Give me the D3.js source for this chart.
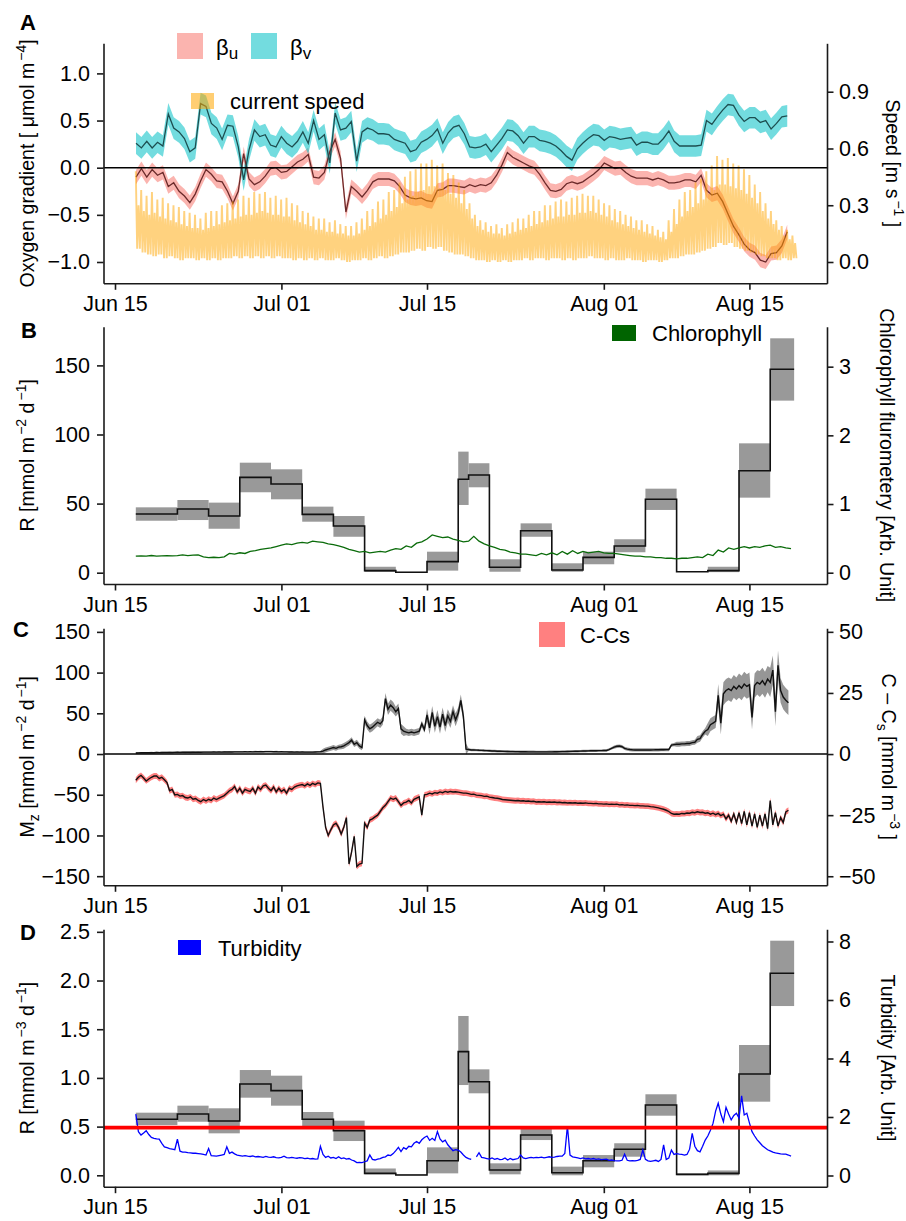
<!DOCTYPE html>
<html>
<head>
<meta charset="utf-8">
<script src="https://cdn.jsdelivr.net/npm/d3@7"></script>
<style>
  html, body { margin: 0; padding: 0; background: #fff; }
  svg { display: block; }
</style>
</head>
<body>
<svg id="chart" width="906" height="1221"></svg>
<script>
// ---------------------------------------------------------------------------
// Time base: all series are indexed in days counted from 15 June (UTC).
// ---------------------------------------------------------------------------
const DAY_MS = 864e5;
const T0 = Date.UTC(2016, 5, 15);
const asDate = d => new Date(T0 + d * DAY_MS);

const xTickLabels = ["2016-06-15", "2016-07-01", "2016-07-15", "2016-08-01", "2016-08-15"];

// ---------------------------------------------------------------------------
// Panel A: oxygen gradient components (one value per 12.42 h tidal cycle)
// ---------------------------------------------------------------------------
const betaStartDay = 2.02;
const tideDays = 0.5175;            // 12.42 h
const betaUHalfWidth = 0.075;
const betaVHalfWidth = 0.115;

const betaV = [
  0.26,0.21,0.28,0.21,0.27,0.23,0.57,0.42,0.38,0.31,
  0.17,0.21,0.68,0.65,0.47,0.42,0.30,0.45,0.44,0.22,
  -0.13,0.19,0.40,0.33,0.35,0.24,0.22,0.33,0.26,0.22,
  0.28,0.38,0.26,0.50,0.30,0.35,0.05,0.58,0.40,0.42,
  0.49,0.07,0.38,0.42,0.40,0.36,0.36,0.35,0.30,0.28,
  0.26,0.17,0.19,0.27,0.30,0.34,0.41,0.26,0.37,0.43,
  0.45,0.36,0.22,0.21,0.22,0.25,0.17,0.24,0.31,0.40,
  0.39,0.34,0.26,0.33,0.33,0.29,0.28,0.26,0.23,0.18,
  0.12,0.08,0.20,0.26,0.31,0.35,0.34,0.29,0.33,0.32,
  0.30,0.31,0.32,0.24,0.27,0.27,0.25,0.25,0.31,0.39,
  0.28,0.23,0.23,0.23,0.23,0.24,0.50,0.46,0.54,0.61,
  0.67,0.66,0.56,0.49,0.53,0.53,0.48,0.50,0.41,0.47,
  0.54,0.55
];

const betaU = [
  -0.10,-0.01,-0.10,-0.02,-0.08,-0.05,-0.20,-0.16,-0.25,-0.30,
  -0.37,-0.28,-0.14,-0.02,-0.07,-0.14,-0.15,-0.25,-0.38,-0.25,
  0.15,-0.12,-0.18,-0.15,-0.09,-0.01,0.00,-0.05,-0.04,0.01,
  0.06,0.09,0.14,-0.10,-0.11,-0.05,0.17,0.30,0.10,-0.47,
  -0.20,-0.25,-0.31,-0.24,-0.15,-0.12,-0.12,-0.12,-0.14,-0.20,
  -0.29,-0.32,-0.33,-0.32,-0.35,-0.36,-0.24,-0.23,-0.19,-0.19,
  -0.20,-0.21,-0.18,-0.20,-0.18,-0.19,-0.16,-0.08,0.03,0.16,
  0.11,0.08,0.05,0.02,0.00,-0.07,-0.16,-0.24,-0.25,-0.23,
  -0.17,-0.15,-0.17,-0.15,-0.11,-0.07,-0.02,0.05,0.02,-0.01,
  0.00,-0.05,-0.09,-0.11,-0.11,-0.11,-0.13,-0.11,-0.13,-0.16,
  -0.16,-0.15,-0.13,-0.13,-0.15,-0.08,-0.24,-0.29,-0.27,-0.36,
  -0.49,-0.62,-0.71,-0.81,-0.87,-0.90,-0.98,-1.00,-0.91,-0.90,
  -0.83,-0.68
];

// Current speed [m/s] per tidal cycle: main peak, secondary peak, slack minimum
const speedStartDay = 2.0;
const speedHigh = [
  0.48,0.38,0.35,0.37,0.33,0.34,0.31,0.30,0.29,0.27,
  0.26,0.25,0.23,0.26,0.27,0.27,0.30,0.31,0.32,0.33,
  0.35,0.34,0.37,0.36,0.37,0.34,0.35,0.33,0.34,0.31,
  0.30,0.27,0.26,0.24,0.23,0.23,0.21,0.22,0.20,0.19,
  0.19,0.21,0.23,0.27,0.28,0.32,0.33,0.37,0.38,0.42,
  0.45,0.48,0.49,0.52,0.52,0.54,0.51,0.52,0.47,0.46,
  0.42,0.38,0.31,0.25,0.22,0.21,0.19,0.20,0.18,0.20,
  0.21,0.23,0.23,0.25,0.27,0.27,0.30,0.30,0.32,0.33,
  0.32,0.34,0.35,0.36,0.35,0.35,0.33,0.31,0.30,0.28,
  0.27,0.25,0.24,0.22,0.22,0.20,0.19,0.17,0.16,0.22,
  0.28,0.33,0.37,0.38,0.42,0.44,0.48,0.51,0.56,0.54,
  0.55,0.52,0.51,0.49,0.46,0.41,0.37,0.31,0.27,0.22,
  0.19,0.17,0.14
];
const speedSecond = [
  0.30,0.27,0.25,0.26,0.24,0.23,0.22,0.21,0.20,0.19,
  0.18,0.18,0.17,0.18,0.19,0.20,0.21,0.22,0.23,0.24,
  0.25,0.25,0.26,0.27,0.26,0.25,0.25,0.24,0.24,0.22,
  0.21,0.20,0.19,0.17,0.17,0.16,0.16,0.15,0.15,0.14,
  0.14,0.15,0.17,0.19,0.21,0.23,0.25,0.27,0.29,0.31,
  0.33,0.35,0.37,0.38,0.40,0.40,0.39,0.38,0.36,0.34,
  0.31,0.28,0.23,0.19,0.17,0.16,0.15,0.15,0.14,0.15,
  0.16,0.17,0.18,0.19,0.20,0.21,0.22,0.23,0.24,0.24,
  0.25,0.25,0.26,0.26,0.27,0.26,0.25,0.24,0.22,0.21,
  0.20,0.19,0.18,0.17,0.16,0.15,0.14,0.13,0.12,0.16,
  0.20,0.24,0.27,0.29,0.31,0.33,0.36,0.38,0.41,0.41,
  0.40,0.39,0.38,0.36,0.34,0.31,0.27,0.23,0.20,0.17,
  0.14,0.12,0.10
];
const speedLow = [
  0.07,0.05,0.04,0.03,0.04,0.02,0.03,0.02,0.01,0.02,
  0.02,0.01,0.02,0.01,0.02,0.01,0.02,0.02,0.03,0.02,
  0.03,0.02,0.03,0.02,0.03,0.02,0.03,0.02,0.02,0.01,
  0.02,0.01,0.02,0.01,0.02,0.01,0.01,0.02,0.01,0.00,
  0.01,0.01,0.02,0.01,0.02,0.03,0.02,0.03,0.04,0.05,
  0.05,0.06,0.07,0.06,0.08,0.07,0.08,0.06,0.05,0.04,
  0.04,0.03,0.02,0.01,0.01,0.00,0.01,0.00,0.01,0.00,
  0.01,0.01,0.02,0.01,0.02,0.02,0.01,0.02,0.02,0.01,
  0.02,0.01,0.02,0.02,0.03,0.02,0.02,0.01,0.02,0.01,
  0.01,0.02,0.01,0.01,0.00,0.01,0.01,0.00,0.01,0.02,
  0.02,0.03,0.04,0.04,0.05,0.06,0.07,0.08,0.10,0.09,
  0.10,0.08,0.07,0.06,0.05,0.04,0.03,0.02,0.02,0.01,
  0.02,0.01,0.02
];

// ---------------------------------------------------------------------------
// Panels B & D: respiration estimates per window (window edges in days)
// ---------------------------------------------------------------------------
const windowEdges = [2, 6, 9, 12, 15, 18, 21, 24, 27, 30, 33, 34, 36, 39, 42, 45, 48, 51, 54, 57, 60, 63, 65.3];

const rAreal   = [42.5, 46.1, 41.0, 69.0, 64.2, 42.2, 33.8, 1.5, 0.3, 8.0, 67.6, 70.7, 3.9, 30.4, 2.0, 11.1, 19.3, 53.1, 0.7, 1.5, 73.8, 147.2];
const rArealLo = [37.6, 38.1, 31.8, 58.2, 53.1, 36.9, 26.0, 0.5, 0.0, 1.5, 49.0, 61.8, 0.7, 26.0, 0.7, 6.1, 14.8, 45.4, 0.5, 0.4, 54.3, 124.5];
const rArealHi = [47.3, 52.6, 50.7, 79.6, 74.8, 47.8, 41.0, 4.3, 0.6, 15.2, 87.6, 79.2, 9.7, 35.7, 6.8, 15.2, 24.2, 60.8, 0.9, 4.3, 93.6, 169.6];

const rVolume   = [0.575, 0.629, 0.557, 0.937, 0.869, 0.575, 0.458, 0.020, 0.003, 0.150, 1.270, 0.961, 0.054, 0.414, 0.027, 0.150, 0.267, 0.722, 0.010, 0.020, 1.040, 2.074];
const rVolumeLo = [0.516, 0.550, 0.431, 0.797, 0.715, 0.493, 0.352, 0.010, 0.000, 0.020, 0.927, 0.842, 0.010, 0.362, 0.000, 0.082, 0.191, 0.612, 0.000, 0.000, 0.756, 1.738];
const rVolumeHi = [0.643, 0.715, 0.688, 1.081, 1.023, 0.650, 0.561, 0.070, 0.010, 0.287, 1.636, 1.088, 0.123, 0.482, 0.089, 0.208, 0.329, 0.832, 0.020, 0.050, 1.338, 2.409];
const rVolumeThreshold = 0.49;

// Chlorophyll fluorometry, every 12 h from day 2
const chlStartDay = 2.0;
const chlStepDays = 0.5;
const chlorophyll = [
  0.24,0.245,0.24,0.25,0.24,0.245,0.25,0.245,0.25,0.26,
  0.25,0.255,0.26,0.23,0.22,0.225,0.22,0.23,0.28,0.27,
  0.29,0.28,0.31,0.32,0.34,0.35,0.36,0.38,0.40,0.42,
  0.41,0.43,0.44,0.43,0.46,0.45,0.44,0.42,0.41,0.39,
  0.37,0.34,0.32,0.30,0.31,0.29,0.30,0.31,0.30,0.33,
  0.35,0.34,0.39,0.37,0.43,0.45,0.49,0.55,0.53,0.51,
  0.52,0.49,0.47,0.45,0.46,0.53,0.46,0.42,0.39,0.37,
  0.34,0.33,0.30,0.29,0.27,0.27,0.26,0.25,0.28,0.26,
  0.29,0.26,0.31,0.27,0.32,0.28,0.31,0.29,0.30,0.31,
  0.29,0.28,0.28,0.27,0.26,0.25,0.24,0.24,0.23,0.23,
  0.22,0.22,0.21,0.21,0.20,0.21,0.21,0.22,0.23,0.22,
  0.27,0.25,0.33,0.30,0.36,0.34,0.36,0.38,0.36,0.38,
  0.37,0.39,0.40,0.37,0.38,0.36,0.35
];

// Turbidity, every 6 h from day 2 (one group of four per day)
const turbStartDay = 2.0;
const turbStepDays = 0.25;
const turbidity = [
  2.10,1.50,1.38,1.45,  1.53,1.40,1.30,1.27,  1.25,1.24,1.10,0.98,  0.95,0.92,0.90,0.88,
  1.24,0.83,0.80,0.80,  0.78,0.77,0.76,0.76,  0.75,0.74,0.72,0.70,  0.92,0.68,0.67,0.66,
  0.68,0.70,0.72,0.98,  0.76,0.80,0.74,0.70,  0.68,0.66,0.68,0.66,  0.65,0.67,0.64,0.65,
  0.64,0.62,0.65,0.63,  0.62,0.64,0.61,0.60,  0.62,0.66,0.61,0.60,  0.62,0.60,0.59,0.61,
  0.60,0.58,0.59,0.57,  0.58,0.56,0.57,1.00,  0.72,0.62,0.66,0.60,  0.62,0.58,0.64,0.58,
  0.60,0.56,0.58,0.53,  0.50,0.44,0.45,0.44,  0.47,0.50,0.70,0.55,  0.53,0.56,0.58,0.62,
  0.64,0.70,0.68,0.75,  0.85,0.96,0.82,0.95,  0.90,1.00,0.98,1.10,  1.16,1.10,1.22,1.30,
  1.35,1.20,1.27,1.20,  1.50,1.25,1.15,1.21,  1.05,0.95,0.85,0.88,  0.87,0.80,0.70,0.62,
  0.58,0.55,null,0.64,  0.78,0.62,0.60,0.58,  0.56,0.60,0.55,0.58,  0.54,0.55,0.60,0.53,
  0.58,0.54,0.56,0.58,  0.70,0.60,0.58,0.60,  0.62,0.60,0.62,0.61,  0.63,0.60,0.62,0.64,
  0.62,0.63,0.65,0.66,  0.66,0.75,1.69,0.70,  0.64,0.62,0.60,0.58,  0.60,0.57,0.58,0.56,
  0.58,0.55,0.57,0.54,  0.55,0.56,0.52,0.53,  0.51,0.50,0.50,0.52,  0.73,0.52,0.50,0.51,
  0.50,0.52,0.55,0.87,  0.55,0.50,0.48,0.50,  0.52,0.48,0.55,1.05,  0.55,0.60,0.87,0.72,
  0.75,0.73,0.72,0.70,  0.72,0.90,1.44,1.00,  0.85,0.81,1.00,1.21,  1.35,1.55,1.78,2.20,
  2.47,2.10,1.84,2.33,  2.10,1.90,2.05,2.13,  1.96,2.72,2.07,2.13,  1.80,1.50,1.35,1.22,
  1.12,1.02,0.95,0.88,  0.84,0.80,0.77,0.76,  0.74,0.73,0.73,0.70,
  0.66
];

// ---------------------------------------------------------------------------
// Panel C: vertical flux M_z and saturation deficit C - Cs, every 6 h from day 2
// ---------------------------------------------------------------------------
const fluxStartDay = 2.0;
const fluxStepDays = 0.25;
const mz = [
  1.2,1.4,1.5,1.5,  1.6,1.5,1.7,1.6,  1.8,1.7,1.8,1.9,  1.9,2.0,1.9,2.0,
  2.1,2.0,2.2,2.1,  2.2,2.1,2.3,2.2,  2.3,2.2,2.4,2.3,  2.4,2.3,2.5,2.4,
  2.5,2.4,2.6,2.5,  2.6,2.5,2.7,2.6,  2.7,2.6,2.8,2.7,  2.8,2.7,2.9,2.8,
  2.9,2.8,3.0,2.9,  3.0,2.8,2.9,2.7,  2.8,2.6,2.7,2.5,  2.6,2.4,2.5,2.4,
  2.5,2.3,2.4,2.3,  2.4,2.5,2.6,2.8,  3.5,5.0,6.0,7.0,  8.0,7.0,8.5,9.0,
  10,12,14,17,      12,14,10,8,       42,35,31,33,      36,39,37,41,
  68,55,60,57,      52,56,31,28,      27,26,27,26,      27,28,37,30,
  48,32,51,34,      46,33,49,35,      47,40,52,42,      50,66,46,6.0,
  5.5,5.0,5.0,4.8,  4.6,4.5,4.3,4.2,  4.0,3.8,3.7,3.5,  3.4,3.3,3.2,3.1,
  3.0,3.0,2.9,2.9,  2.8,2.8,2.8,2.7,  2.7,2.7,2.6,2.6,  2.6,2.6,2.6,2.7,
  2.7,2.8,2.8,2.9,  3.0,3.0,3.1,3.2,  3.3,3.4,3.5,3.6,  3.7,3.8,3.9,4.0,
  4.0,4.1,4.2,4.2,  4.3,4.4,5.5,7.0,  8.5,9.5,9.8,9.0,  7.0,6.0,5.5,5.2,
  5.0,5.0,5.1,5.0,  5.0,5.1,5.0,5.1,  5.2,5.2,5.3,5.3,  5.4,5.5,11.0,11.5,
  12.0,12.0,12.5,12.5, 13.0,13.0,14.0,14.5, 18,19,24,28, 30,36,38,40,
  72,38,74,78,      80,78,83,80,      84,81,86,83,      85,45,84,88,
  86,90,85,92,      88,103,52,109,    78,70,66,63
];
// daily half-width of the M_z uncertainty band (days 2 ... 64)
const mzHalfWidth = [
  1,1,1,1,1,1,1,1,1,1,1,1,1,1,1,1,1,1,
  3,3,3.5,3.5, 5,5, 7,6, 4,4, 8,8,8,7,
  1.5,1.5,1.5,1.5,1.5,1.5,1.5,1.5,1.5,1.5,1.5,1.5,1.5,1.5,
  2,2,2,2,2,2, 3,3, 4, 8, 14,14,15,15,16, 18, 15
];
const deficit = [
  -10.7,-9.5,-8.7,-9.8,   -11.0,-10.2,-9.5,-9.0,  -9.0,-10.0,-9.5,-10.5,  -11.7,-15.0,-14.5,-16.7,
  -16.5,-17.2,-17.0,-17.8, -18.0,-17.5,-18.5,-18.2, -19.0,-19.5,-18.6,-19.2, -18.5,-19.0,-18.0,-18.6,
  -18.0,-17.5,-17.0,-16.0, -15.0,-14.5,-13.3,-15.5, -14.0,-16.0,-14.5,-15.0, -15.3,-14.0,-16.0,-13.5,
  -14.5,-13.0,-12.7,-14.0, -15.0,-13.5,-15.5,-14.0, -15.3,-14.5,-16.0,-14.0, -14.5,-13.5,-13.0,-12.7,
  -12.5,-13.0,-12.2,-12.8, -12.0,-12.5,-11.8,-12.0, -21.7,-30.0,-33.3,-31.0, -29.0,-28.3,-30.0,-32.7,
  -30.0,-26.0,-45.0,-40.0, -33.7,-46.0,-45.0,-44.7, -28.3,-30.0,-27.0,-26.5, -25.7,-25.0,-23.5,-22.0,
  -21.0,-19.5,-18.0,-18.5, -18.0,-19.5,-21.0,-20.0, -19.7,-19.0,-20.0,-18.5, -18.0,-17.5,-25.0,-16.7,
  -16.5,-16.0,-16.3,-15.8, -16.0,-15.5,-15.8,-15.3, -15.6,-15.3,-15.5,-15.4, -15.6,-15.8,-16.0,-16.0,
  -16.2,-16.5,-16.4,-16.8, -16.9,-17.0,-17.3,-17.2, -17.6,-17.8,-18.0,-18.1, -18.3,-18.6,-18.7,-18.8,
  -18.9,-19.0,-19.1,-19.0, -19.2,-19.1,-19.3,-19.2, -19.4,-19.3,-19.6,-19.5, -19.6,-19.5,-19.7,-19.6,
  -19.7,-19.6,-19.8,-19.7, -19.9,-19.8,-20.0,-19.9, -20.0,-19.9,-20.1,-20.0, -20.1,-20.0,-20.2,-20.2,
  -20.3,-20.2,-20.4,-20.4, -20.5,-20.4,-20.6,-20.5, -20.6,-20.5,-20.8,-20.7, -20.9,-20.8,-21.0,-21.0,
  -21.1,-21.0,-21.2,-21.2, -21.3,-21.3,-21.5,-21.6, -21.8,-22.0,-22.3,-22.6, -23.0,-23.5,-24.3,-24.6,
  -24.5,-24.6,-24.3,-24.4, -24.1,-24.2,-23.8,-24.0, -23.6,-23.9,-23.8,-24.2, -24.0,-24.6,-24.2,-24.8,
  -24.3,-25.2,-24.6,-26.5, -25.0,-27.5,-24.5,-28.0, -24.0,-28.5,-23.5,-29.0, -24.0,-29.5,-24.5,-30.0,
  -25.0,-29.5,-24.5,-30.5, -19.0,-29.0,-24.0,-29.5, -26.0,-28.0,-23.7,-23.0
];
const deficitHalfWidth = 1.2;

// ---------------------------------------------------------------------------
// Layout and scales
// ---------------------------------------------------------------------------
const FONT = '"Liberation Sans", Arial, Helvetica, sans-serif';
const INK = "#1a1a1a";
const TICK_FS = "21.5px";
const TITLE_FS = "19.6px";
const LEGEND_FS = "22px";

const svg = d3.select("#chart").style("font-family", FONT);

const x = d3.scaleUtc().domain([asDate(-1.106), asDate(68.46)]).range([103.5, 827]);
const xd = d => x(asDate(d));
const xTickDates = xTickLabels.map(d3.utcParse("%Y-%m-%d"));
const fmtDate = d3.utcFormat("%b %d");

const panelA = { top: 43.3, bottom: 283.3 };
const panelB = { top: 326.7, bottom: 584 };
const panelC = { top: 628.3, bottom: 885.3 };
const panelD = { top: 929.3, bottom: 1186.7 };

const yA  = d3.scaleLinear().domain([-1.2259, 1.3192]).range([panelA.bottom, panelA.top]);
const yA2 = d3.scaleLinear().domain([-0.1126, 1.156]).range([panelA.bottom, panelA.top]);
const yB  = d3.scaleLinear().domain([-8.18, 178.0]).range([panelB.bottom, panelB.top]);
const yB2 = d3.scaleLinear().domain([-0.1646, 3.582]).range([panelB.bottom, panelB.top]);
const yC  = d3.scaleLinear().domain([-161.2, 154.4]).range([panelC.bottom, panelC.top]);
const yC2 = d3.scaleLinear().domain([-53.7, 51.45]).range([panelC.bottom, panelC.top]);
const yD  = d3.scaleLinear().domain([-0.117, 2.526]).range([panelD.bottom, panelD.top]);
const yD2 = d3.scaleLinear().domain([-0.383, 8.417]).range([panelD.bottom, panelD.top]);

// ---------------------------------------------------------------------------
// Helpers
// ---------------------------------------------------------------------------
function styleAxis(g) {
  g.attr("font-size", null).attr("font-family", null);
  g.select(".domain").attr("stroke", INK).attr("stroke-width", 1.6);
  g.selectAll(".tick line").attr("stroke", INK).attr("stroke-width", 1.6);
  g.selectAll(".tick text").attr("fill", "#000")
    .style("font-size", TICK_FS).style("font-family", FONT);
}

function drawAxes(p, yl, yr, lt, rt, lf, rf) {
  svg.append("g").attr("transform", `translate(0,${p.bottom})`)
    .call(d3.axisBottom(x).tickValues(xTickDates).tickFormat(fmtDate)
      .tickSize(6.5).tickSizeOuter(0).tickPadding(6))
    .call(styleAxis);
  svg.append("g").attr("transform", `translate(${x.range()[0]},0)`)
    .call(d3.axisLeft(yl).tickValues(lt).tickFormat(lf)
      .tickSize(6.5).tickSizeOuter(0).tickPadding(7))
    .call(styleAxis);
  svg.append("g").attr("transform", `translate(${x.range()[1]},0)`)
    .call(d3.axisRight(yr).tickValues(rt).tickFormat(rf)
      .tickSize(6.5).tickSizeOuter(0).tickPadding(5.5))
    .call(styleAxis);
}

// rotated axis title built from [text, kind] parts (kind: sup / sub)
function axisTitle(xb, cy, rot, parts) {
  const t = svg.append("text")
    .attr("transform", `translate(${xb},${cy}) rotate(${rot})`)
    .attr("text-anchor", "middle")
    .style("font-size", TITLE_FS)
    .attr("fill", "#000");
  let shift = 0;
  parts.forEach(([s, kind]) => {
    const ts = t.append("tspan").text(s);
    let target = 0;
    if (kind === "sup") { target = -8; ts.style("font-size", "14px").attr("dx", 2); }
    if (kind === "sub") { target = 5; ts.style("font-size", "14px"); }
    ts.attr("dy", target - shift);
    shift = target;
  });
}

function panelLabel(lbl, lx, ly) {
  svg.append("text").attr("x", lx).attr("y", ly).text(lbl)
    .style("font-size", "22px").style("font-weight", "bold").attr("fill", "#000");
}

function legendKey(kx, ky, w, h, fill, opacity, label, tx, ty, sub) {
  svg.append("rect").attr("x", kx).attr("y", ky).attr("width", w).attr("height", h)
    .attr("fill", fill).attr("fill-opacity", opacity);
  const t = svg.append("text").attr("x", tx).attr("y", ty)
    .style("font-size", LEGEND_FS).attr("fill", "#000").text(label);
  if (sub) t.append("tspan").text(sub).attr("dy", 4).style("font-size", "17px");
}

function stepPoints(edges, vals) {
  const pts = vals.map((v, i) => [edges[i], v]);
  pts.push([edges[edges.length - 1], vals[vals.length - 1]]);
  return pts;
}

function zeroLine(y, color, width) {
  svg.append("line").attr("x1", x.range()[0]).attr("x2", x.range()[1])
    .attr("y1", y).attr("y2", y).attr("stroke", color).attr("stroke-width", width);
}

const fmt1 = d3.format(".1f");
const fmt0 = d3.format("d");

// ---------------------------------------------------------------------------
// Panel A
// ---------------------------------------------------------------------------
const betaDays = betaV.map((_, k) => betaStartDay + k * tideDays);
const bandA = (vals, half) => d3.area()
  .x((_, i) => xd(betaDays[i]))
  .y0((v) => yA(v - half)).y1((v) => yA(v + half))(vals);
const lineA = vals => d3.line().x((_, i) => xd(betaDays[i])).y(v => yA(v))(vals);

svg.append("path").attr("d", bandA(betaU, betaUHalfWidth)).attr("fill", "#F8766D").attr("fill-opacity", 0.55);
svg.append("path").attr("d", bandA(betaV, betaVHalfWidth)).attr("fill", "#00BFC4").attr("fill-opacity", 0.55);
svg.append("path").attr("d", lineA(betaU)).attr("fill", "none").attr("stroke", "#6b2a2a").attr("stroke-width", 1.3);
svg.append("path").attr("d", lineA(betaV)).attr("fill", "none").attr("stroke", "#1d4e50").attr("stroke-width", 1.3);

const speedPts = [];
speedHigh.forEach((h, c) => {
  const t = speedStartDay + c * tideDays;
  speedPts.push([t, h], [t + tideDays / 4, speedLow[c]],
                [t + tideDays / 2, speedSecond[c]], [t + 3 * tideDays / 4, speedLow[c]]);
});
svg.append("path")
  .attr("d", d3.line().x(d => xd(d[0])).y(d => yA2(d[1]))(speedPts))
  .attr("fill", "none").attr("stroke", "#FFA500").attr("stroke-opacity", 0.5)
  .attr("stroke-width", 1.9).attr("stroke-linejoin", "bevel");

zeroLine(yA(0), "#000", 1.5);

drawAxes(panelA, yA, yA2, [-1, -0.5, 0, 0.5, 1], [0, 0.3, 0.6, 0.9], fmt1, fmt1);
axisTitle(34, 163.3, -90, [["Oxygen gradient [ μmol m"], ["−4", "sup"], ["]"]]);
axisTitle(886, 163.3, 90, [["Speed [m s"], ["−1", "sup"], [" ]"]]);
panelLabel("A", 20, 29.5);
legendKey(177, 33, 26, 26, "#F8766D", 0.55, "β", 216, 55, "u");
legendKey(251, 33, 26, 26, "#00BFC4", 0.55, "β", 290, 55, "v");
legendKey(191, 93, 23, 16, "#FFA500", 0.55, "current speed", 230, 109);

// ---------------------------------------------------------------------------
// Panel B
// ---------------------------------------------------------------------------
const gB = svg.append("g");
gB.selectAll("rect").data(rAreal).join("rect")
  .attr("x", (_, i) => xd(windowEdges[i]))
  .attr("width", (_, i) => xd(windowEdges[i + 1]) - xd(windowEdges[i]))
  .attr("y", (_, i) => yB(rArealHi[i]))
  .attr("height", (_, i) => yB(rArealLo[i]) - yB(rArealHi[i]))
  .attr("fill", "#999999");
gB.append("path")
  .attr("d", d3.line().x(d => xd(d[0])).y(d => yB(d[1])).curve(d3.curveStepAfter)(stepPoints(windowEdges, rAreal)))
  .attr("fill", "none").attr("stroke", "#111").attr("stroke-width", 1.6);
gB.append("path")
  .attr("d", d3.line().x((_, i) => xd(chlStartDay + i * chlStepDays)).y(v => yB2(v))(chlorophyll))
  .attr("fill", "none").attr("stroke", "#0a6b0a").attr("stroke-width", 1.3);

drawAxes(panelB, yB, yB2, [0, 50, 100, 150], [0, 1, 2, 3], fmt0, fmt0);
axisTitle(34, 455.3, -90, [["R [mmol m"], ["−2", "sup"], [" d"], ["−1", "sup"], ["]"]]);
axisTitle(880, 455.3, 90, [["Chlorophyll flurometery [Arb. Unit]"]]);
panelLabel("B", 21, 337.5);
legendKey(612, 325, 24, 16, "#006400", 1, "Chlorophyll", 652, 340.5);

// ---------------------------------------------------------------------------
// Panel C
// ---------------------------------------------------------------------------
const fluxDay = i => fluxStartDay + i * fluxStepDays;
const mzHalf = i => mzHalfWidth[Math.min(Math.floor(i / 4), mzHalfWidth.length - 1)];
const gC = svg.append("g");
gC.append("path")
  .attr("d", d3.area().x((_, i) => xd(fluxDay(i)))
    .y0((v, i) => yC(v - mzHalf(i))).y1((v, i) => yC(v + mzHalf(i)))(mz))
  .attr("fill", "#969696");
gC.append("path")
  .attr("d", d3.area().x((_, i) => xd(fluxDay(i)))
    .y0(v => yC2(v - deficitHalfWidth)).y1(v => yC2(v + deficitHalfWidth))(deficit))
  .attr("fill", "#ff8080");
gC.append("path")
  .attr("d", d3.line().x((_, i) => xd(fluxDay(i))).y(v => yC(v))(mz))
  .attr("fill", "none").attr("stroke", "#111").attr("stroke-width", 1.4);
gC.append("path")
  .attr("d", d3.line().x((_, i) => xd(fluxDay(i))).y(v => yC2(v))(deficit))
  .attr("fill", "none").attr("stroke", "#111").attr("stroke-width", 1.4);
zeroLine(yC(0), "#000", 1.5);

drawAxes(panelC, yC, yC2, [-150, -100, -50, 0, 50, 100, 150], [-50, -25, 0, 25, 50], fmt0, fmt0);
axisTitle(34, 756.8, -90, [["M"], ["z", "sub"], [" [mmol m"], ["−2", "sup"], [" d"], ["−1", "sup"], ["]"]]);
axisTitle(882, 756.8, 90, [["C – C"], ["s", "sub"], [" [mmol m"], ["−3", "sup"], [" ]"]]);
panelLabel("C", 13, 637);
legendKey(539, 622, 26, 25, "#ff8080", 1, "C-Cs", 580, 642.5);

// ---------------------------------------------------------------------------
// Panel D
// ---------------------------------------------------------------------------
const gD = svg.append("g");
gD.selectAll("rect").data(rVolume).join("rect")
  .attr("x", (_, i) => xd(windowEdges[i]))
  .attr("width", (_, i) => xd(windowEdges[i + 1]) - xd(windowEdges[i]))
  .attr("y", (_, i) => yD(rVolumeHi[i]))
  .attr("height", (_, i) => yD(rVolumeLo[i]) - yD(rVolumeHi[i]))
  .attr("fill", "#999999");
gD.append("path")
  .attr("d", d3.line().x(d => xd(d[0])).y(d => yD(d[1])).curve(d3.curveStepAfter)(stepPoints(windowEdges, rVolume)))
  .attr("fill", "none").attr("stroke", "#111").attr("stroke-width", 1.6);
gD.append("path")
  .attr("d", d3.line().defined(v => v !== null)
    .x((_, i) => xd(turbStartDay + i * turbStepDays)).y(v => yD2(v))(turbidity))
  .attr("fill", "none").attr("stroke", "#0000ff").attr("stroke-width", 1.3);
zeroLine(yD(rVolumeThreshold), "#ff0000", 3.8);

drawAxes(panelD, yD, yD2, [0, 0.5, 1, 1.5, 2, 2.5], [0, 2, 4, 6, 8], fmt1, fmt0);
axisTitle(34, 1058, -90, [["R [mmol m"], ["−3", "sup"], [" d"], ["−1", "sup"], ["]"]]);
axisTitle(881, 1058, 90, [["Turbidity [Arb. Unit]"]]);
panelLabel("D", 20, 939.5);
legendKey(178, 940, 23, 15, "#0000ff", 1, "Turbidity", 218, 955.5);
</script>
</body>
</html>
